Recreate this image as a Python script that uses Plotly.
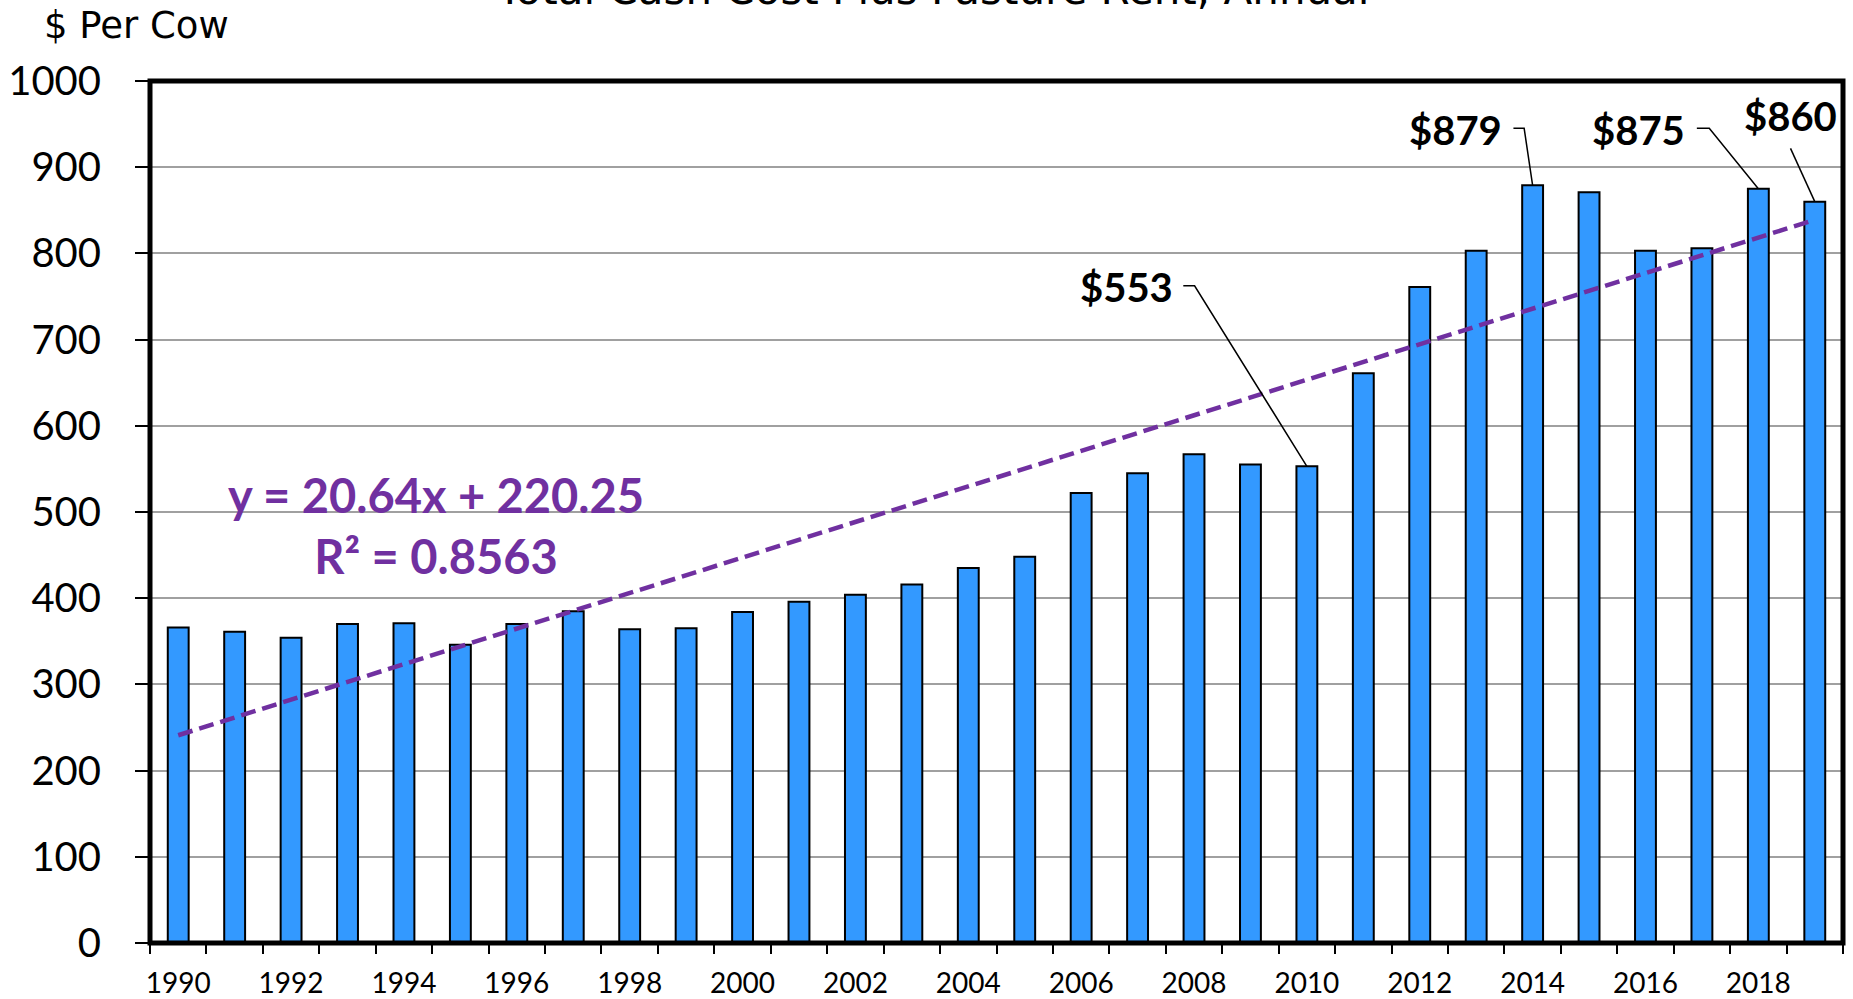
import plotly.graph_objects as go

# ---------------- data ----------------
years = [1990, 1991, 1992, 1993, 1994, 1995, 1996, 1997, 1998, 1999,
         2000, 2001, 2002, 2003, 2004, 2005, 2006, 2007, 2008, 2009,
         2010, 2011, 2012, 2013, 2014, 2015, 2016, 2017, 2018, 2019]
cost_per_cow = [366, 361, 354, 370, 371, 346, 370, 385, 364, 365,
                384, 396, 404, 416, 435, 448, 522, 545, 567, 555,
                553, 661, 761, 803, 879, 871, 803, 806, 875, 860]
tick_years = [1990, 1992, 1994, 1996, 1998, 2000, 2002, 2004, 2006, 2008,
              2010, 2012, 2014, 2016, 2018]
tick_labels = ["1990", "1992", "1994", "1996", "1998", "2000", "2002", "2004",
               "2006", "2008", "2010", "2012", "2014", "2016", "2018"]
trend_years = [1990, 2019]
trend_values = [241, 839]
trend_equation = "y = 20.64x + 220.25"
trend_r2 = "R² = 0.8563"
callout_years = [2010, 2014, 2018, 2019]
callout_values = [553, 879, 875, 860]
callout_texts = ["$553", "$879", "$875", "$860"]
title_text = "Total Cash Cost Plus Pasture Rent, Annual"
y_title_text = "$ Per Cow"

# ---------------- placement (label x, label y, elbow x0, elbow x1, elbow y) ----------------
callout_layout = [
    (2006.80, 761.4, 2007.81, 2008.01, 762.5),
    (2012.64, 943.2, 2013.66, 2013.85, 945.1),
    (2015.87, 943.2, 2016.91, 2017.13, 945.1),
    (2018.57, 959.4, 2018.57, 2018.57, 921.9),
]

BAR_COLOR = "#3399FF"
TREND_COLOR = "#7030A0"

fig = go.Figure()

fig.add_trace(go.Bar(
    x=years, y=cost_per_cow, width=0.37,
    marker=dict(color=BAR_COLOR, line=dict(color="black", width=2)),
    hoverinfo="x+y",
))

fig.add_trace(go.Scatter(
    x=trend_years, y=trend_values, mode="lines",
    line=dict(color=TREND_COLOR, width=4.5, dash="15px,7px"),
    hoverinfo="skip",
))

annotations = []
for yr, val, txt, (lx, ly, ex0, ex1, ey) in zip(callout_years, callout_values,
                                                  callout_texts, callout_layout):
    fig.add_trace(go.Scatter(
        x=[ex0, ex1, yr], y=[ey, ey, val], mode="lines",
        line=dict(color="black", width=1.5), hoverinfo="skip",
    ))
    annotations.append(dict(
        x=lx, y=ly, xref="x", yref="y", text=f"<b>{txt}</b>", showarrow=False,
        xanchor="center", yanchor="middle",
        font=dict(family="Lato", size=40, color="black"),
    ))

annotations.append(dict(
    x=1994.56, y=484.9, xref="x", yref="y",
    text=f"<b>{trend_equation}</b><br><b>{trend_r2}</b>", showarrow=False,
    xanchor="center", yanchor="middle", align="center",
    font=dict(family="Lato", size=47, color=TREND_COLOR),
))

annotations.append(dict(
    x=0.4625, y=1.1065, xref="paper", yref="paper", text=title_text,
    showarrow=False, xanchor="center", yanchor="middle",
    font=dict(family="DejaVu Sans", size=42, color="black"),
))

annotations.append(dict(
    x=-0.0635, y=1.0639, xref="paper", yref="paper", text=y_title_text,
    showarrow=False, xanchor="left", yanchor="middle",
    font=dict(family="DejaVu Sans", size=37, color="black"),
))

fig.update_layout(
    width=1853, height=999,
    margin=dict(l=150, r=10, t=81, b=56),
    plot_bgcolor="white", paper_bgcolor="white",
    showlegend=False,
    font=dict(family="Lato", color="black"),
    annotations=annotations,
    shapes=[dict(type="rect", xref="paper", yref="paper", x0=0, x1=1, y0=0, y1=1,
                 line=dict(color="black", width=5), layer="above")],
    xaxis=dict(
        range=[1989.5, 2019.5], tickmode="array", tickvals=tick_years, ticktext=tick_labels,
        ticks="", showgrid=False, zeroline=False, showline=False, automargin=False,
        tickfont=dict(family="Lato", size=28, color="black"),
        ticklabelstandoff=21,
        minor=dict(tick0=1989.5, dtick=1, ticks="outside", ticklen=10, tickwidth=2,
                   tickcolor="black", showgrid=False),
    ),
    yaxis=dict(
        range=[0, 1000], tick0=0, dtick=100, showgrid=True, gridcolor="#A0A0A0", gridwidth=1.5,
        ticks="outside", ticklen=14, tickwidth=1.5, tickcolor="black",
        zeroline=False, showline=False, automargin=False,
        tickfont=dict(family="Lato", size=40, color="black"),
        ticklabelstandoff=26,
    ),
)

fig.write_html("out.html", config={"displayModeBar": False},
               post_script="document.body.style.margin='0';")
